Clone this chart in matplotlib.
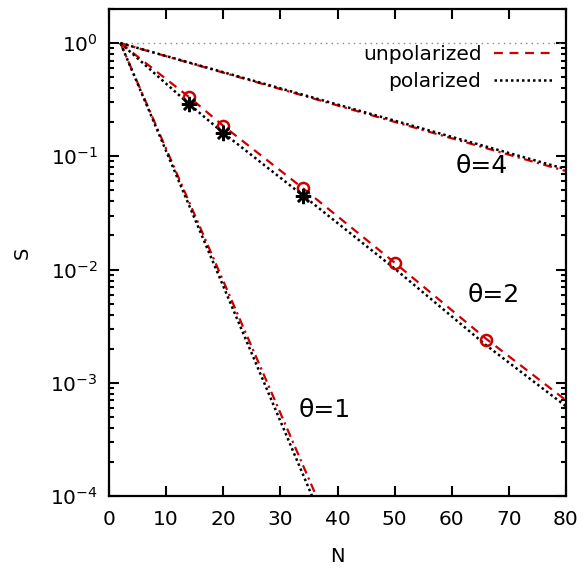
import matplotlib
matplotlib.use("Agg")
import matplotlib.pyplot as plt
from matplotlib.ticker import LogLocator, NullFormatter, FixedLocator

# ---- data ----
N_t1 = [2, 38]
S_t1_unpol = [1.0, 6.3e-5]
S_t1_pol = [1.0, 5.1e-5]

N_t2 = [2, 14, 20, 34, 50, 66, 80]
S_t2_unpol = [1.0, 0.334, 0.186, 0.0520, 0.0115, 0.00245, 7.0e-4]
S_t2_pol = [1.0, 0.290, 0.161, 0.0449, 0.0102, 0.00215, 6.2e-4]

N_t4 = [2, 80]
S_t4_unpol = [1.0, 0.074]
S_t4_pol = [1.0, 0.077]

N_ref = [2, 80]
S_ref = [1.0, 1.0]

N_circ = [14, 20, 34, 50, 66]
S_circ = [0.334, 0.186, 0.0520, 0.0115, 0.00237]

N_star = [14, 20, 34]
S_star = [0.290, 0.161, 0.0449]

labels_theta = ["θ=1", "θ=2", "θ=4"]
label_pos = [(37.7, 5.7e-4), (67.4, 6.0e-3), (65.2, 8.2e-2)]

legend_labels = ["unpolarized", "polarized"]

red = "#cc0000"
plt.rcParams['font.family'] = ['DejaVu Sans']

fig = plt.figure(figsize=(5.84, 5.68), dpi=100)
ax = fig.add_axes([109/584, 1-496/568, (566-109)/584, (496-9)/568])

dot = (0, (1, 1.2))
dash = (0, (4, 3))
dashdot = (0, (4, 2, 1, 2))

ax.plot(N_ref, S_ref, color="#888888", lw=1.0, ls=(0, (1, 3)))

ax.plot(N_t1, S_t1_unpol, color=red, lw=1.6, ls=dashdot)
ax.plot(N_t1, S_t1_pol, color="black", lw=1.8, ls=dot)

l_unpol, = ax.plot(N_t2, S_t2_unpol, color=red, lw=1.6, ls=dash)
l_pol, = ax.plot(N_t2, S_t2_pol, color="black", lw=1.8, ls=dot)

ax.plot(N_t4, S_t4_unpol, color=red, lw=1.6, ls=dashdot)
ax.plot(N_t4, S_t4_pol, color="black", lw=1.8, ls=dot)

ax.plot(N_circ, S_circ, ls="none", marker="o", ms=8, mfc="none", mec=red, mew=1.8)
ax.plot(N_star, S_star, ls="none", marker=(8, 2, 0), ms=11, color="black", mew=1.8)

for txt, (x, y) in zip(labels_theta, label_pos):
    ax.text(x, y, txt, fontsize=18, ha="center", va="center")

ax.set_yscale("log")
ax.set_xlim(0, 80)
ax.set_ylim(1e-4, 2)
ax.set_xticks(range(0, 81, 10))
ax.yaxis.set_major_locator(FixedLocator([1e-4, 1e-3, 1e-2, 1e-1, 1e0]))
ax.yaxis.set_minor_locator(LogLocator(base=10, subs=range(2, 10), numticks=20))
ax.yaxis.set_minor_formatter(NullFormatter())

ax.tick_params(which="both", direction="in", top=True, right=True, width=1.5)
ax.tick_params(which="major", length=7, labelsize=14.5)
ax.tick_params(which="minor", length=3.5)
ax.tick_params(axis="x", pad=10)
ax.tick_params(axis="y", pad=8)
for s in ax.spines.values():
    s.set_linewidth(1.6)

ax.set_xlabel("N", fontsize=14)
ax.set_ylabel("S", fontsize=14)
ax.xaxis.set_label_coords(0.5, -0.104)
ax.yaxis.set_label_coords(-0.168, 0.5)

leg = ax.legend([l_unpol, l_pol], legend_labels, loc="upper right", frameon=False,
                markerfirst=False, fontsize=14.5, handlelength=2.9, handletextpad=0.6,
                labelspacing=0.42, borderaxespad=0.3, bbox_to_anchor=(1.0, 0.955))
for t in leg.get_texts():
    t.set_ha("right")

fig.savefig("out.png", dpi=100)
